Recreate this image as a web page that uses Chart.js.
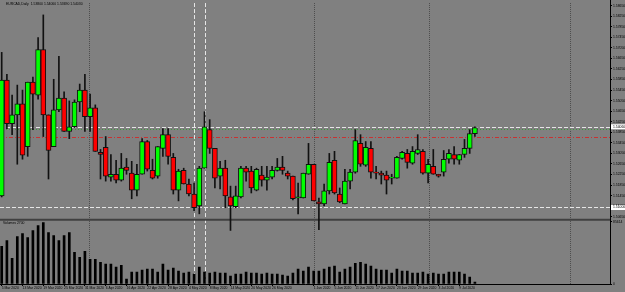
<!DOCTYPE html>
<html>
<head>
<meta charset="utf-8">
<script src="https://cdn.jsdelivr.net/npm/chart.js@4.4.1/dist/chart.umd.min.js"></script>
<style>
html, body { margin: 0; padding: 0; background: #808080; }
#wrap { width: 625px; height: 292px; }
</style>
</head>
<body>
<div id="wrap"><canvas id="chart"></canvas></div>
<script>
// EURCAD daily candles
const opens = [1.5144,1.5583,1.5418,1.5451,1.5493,1.5331,1.5575,1.5526,1.5699,1.5451,
  1.5331,1.5470,1.5515,1.5388,1.5406,1.5500,1.5545,1.5444,1.5478,1.5309,
  1.5328,1.5215,1.5226,1.5204,1.5253,1.5230,1.5166,1.5226,1.5350,1.5241,
  1.5219,1.5324,1.5376,1.5290,1.5166,1.5241,1.5189,1.5151,1.5106,1.5249,
  1.5395,1.5324,1.5219,1.5249,1.5140,1.5103,1.5140,1.5249,1.5238,1.5166,
  1.5223,1.5204,1.5215,1.5241,1.5253,1.5230,1.5219,1.5136,1.5136,1.5226,
  1.5264,1.5121,1.5114,1.5163,1.5279,1.5151,1.5114,1.5200,1.5234,1.5343,
  1.5260,1.5324,1.5234,1.5230,1.5223,1.5211,1.5211,1.5286,1.5305,1.5268,
  1.5305,1.5313,1.5230,1.5256,1.5226,1.5234,1.5283,1.5301,1.5279,1.5301,
  1.5324,1.5380];
const highs = [1.5688,1.5605,1.5526,1.5564,1.5545,1.5575,1.5594,1.5744,1.5830,1.5451,
  1.5586,1.5673,1.5538,1.5504,1.5508,1.5568,1.5605,1.5530,1.5489,1.5320,
  1.5369,1.5301,1.5279,1.5305,1.5286,1.5275,1.5264,1.5361,1.5354,1.5283,
  1.5331,1.5399,1.5399,1.5305,1.5245,1.5249,1.5208,1.5193,1.5256,1.5463,
  1.5433,1.5324,1.5275,1.5279,1.5181,1.5181,1.5256,1.5256,1.5256,1.5249,
  1.5256,1.5256,1.5256,1.5286,1.5294,1.5238,1.5219,1.5193,1.5230,1.5343,
  1.5264,1.5136,1.5189,1.5305,1.5313,1.5174,1.5245,1.5245,1.5395,1.5376,
  1.5350,1.5350,1.5256,1.5238,1.5238,1.5226,1.5294,1.5313,1.5320,1.5331,
  1.5376,1.5320,1.5283,1.5320,1.5226,1.5316,1.5320,1.5331,1.5301,1.5358,
  1.5395,1.5406];
const lows = [1.5140,1.5399,1.5376,1.5264,1.5283,1.5294,1.5395,1.5511,1.5369,1.5208,
  1.5331,1.5463,1.5388,1.5361,1.5403,1.5463,1.5388,1.5388,1.5313,1.5208,
  1.5200,1.5200,1.5193,1.5200,1.5226,1.5133,1.5144,1.5226,1.5238,1.5208,
  1.5211,1.5294,1.5264,1.5151,1.5125,1.5189,1.5144,1.5088,1.5076,1.5249,
  1.5305,1.5174,1.5170,1.5099,1.5013,1.5099,1.5136,1.5200,1.5155,1.5163,
  1.5181,1.5166,1.5208,1.5238,1.5226,1.5208,1.5129,1.5076,1.5136,1.5226,
  1.5125,1.5016,1.5106,1.5151,1.5151,1.5118,1.5114,1.5170,1.5230,1.5256,
  1.5256,1.5211,1.5208,1.5189,1.5151,1.5189,1.5211,1.5283,1.5249,1.5264,
  1.5301,1.5226,1.5193,1.5226,1.5215,1.5219,1.5268,1.5264,1.5264,1.5290,
  1.5305,1.5369];
const closes = [1.5583,1.5418,1.5451,1.5493,1.5298,1.5575,1.5530,1.5699,1.5451,1.5316,
  1.5470,1.5515,1.5388,1.5406,1.5500,1.5545,1.5444,1.5478,1.5313,1.5301,
  1.5219,1.5226,1.5204,1.5249,1.5241,1.5166,1.5226,1.5350,1.5245,1.5211,
  1.5331,1.5376,1.5294,1.5166,1.5238,1.5189,1.5151,1.5099,1.5249,1.5406,
  1.5324,1.5211,1.5249,1.5144,1.5106,1.5144,1.5249,1.5234,1.5174,1.5245,
  1.5204,1.5215,1.5241,1.5253,1.5241,1.5219,1.5133,1.5140,1.5230,1.5264,
  1.5125,1.5114,1.5163,1.5271,1.5155,1.5121,1.5200,1.5234,1.5354,1.5264,
  1.5328,1.5234,1.5230,1.5223,1.5204,1.5215,1.5290,1.5309,1.5271,1.5313,
  1.5320,1.5230,1.5264,1.5226,1.5219,1.5283,1.5305,1.5283,1.5301,1.5324,
  1.5380,1.5403];
const volumes = [51600,59800,35300,65200,69300,63900,73400,80200,84300,70700,
  66600,59800,66600,70700,43500,36700,44800,34000,34000,29900,
  27200,27200,23100,25800,6800,16300,16300,19000,20400,20400,
  16300,27200,19000,21700,17700,14900,16300,13600,23100,16300,
  14900,16300,14900,14900,10900,13600,13600,16300,14900,14900,
  13600,14900,13600,13600,12200,10900,14900,20400,17700,23100,
  17700,17700,20400,23100,24500,16300,20400,23100,28500,29900,
  27200,24500,20400,19000,19000,14900,20400,17700,17700,14900,
  14900,16300,13600,14900,13600,13600,16300,16300,16300,13600,
  9500,2700];

// bottom axis labels (bar index -> text)
const dateTickBars = [0,4,8,12,16,20,24,28,32,36,40,44,48,52,60,64,68,72,76,80,84,88];
const dateTickLabels = ['5 Mar 2020','13 Mar 2020','19 Mar 2020','25 Mar 2020','31 Mar 2020',
  '6 Apr 2020','16 Apr 2020','22 Apr 2020','28 Apr 2020','4 May 2020','8 May 2020',
  '14 May 2020','20 May 2020','26 May 2020','1 Jun 2020','5 Jun 2020','11 Jun 2020',
  '17 Jun 2020','23 Jun 2020','29 Jun 2020','3 Jul 2020','9 Jul 2020'];

const priceTicks = [1.5865,1.5825,1.5785,1.5745,1.5705,1.5665,1.5625,1.5585,1.5545,1.5505,
  1.5465,1.5425,1.5385,1.5345,1.5305,1.5265,1.5225,1.5185,1.5145,1.5105,1.5065];
const volumeTicks = [0, 85614];

// objects drawn on the chart
const dashedLevels = [1.5406, 1.5100];
const askLevel = 1.5399;
const stopLevel = 1.5369;
const markerBars = [37, 39];
const periodBars = [16.8, 60, 82.2, 109.3];

const bars = opens.map((_, i) => i);
const FONT = 'Liberation Sans';
Chart.defaults.font.family = FONT;

const overlay = {
  id: 'overlay',
  beforeDraw(chart) {
    const c = chart.ctx;
    c.save();
    c.fillStyle = '#808080';
    c.fillRect(0, 0, chart.width, chart.height);
    c.restore();
  },
  beforeDatasetsDraw(chart) {
    const c = chart.ctx, a = chart.chartArea;
    const x = chart.scales.x, y = chart.scales.y, yv = chart.scales.yv;
    c.save();
    c.beginPath();
    c.rect(a.left, a.top, a.right - a.left, a.bottom - a.top);
    c.clip();
    c.lineWidth = 1;
    // period separators
    c.strokeStyle = '#4c4c4c';
    c.setLineDash([1, 1]);
    periodBars.forEach(b => {
      const px = Math.round(x.getPixelForValue(b)) + 0.5;
      c.beginPath(); c.moveTo(px, a.top); c.lineTo(px, a.bottom); c.stroke();
    });
    // white dashed verticals
    c.strokeStyle = '#e6e6e6';
    c.setLineDash([4, 2]);
    markerBars.forEach(b => {
      const px = Math.round(x.getPixelForValue(b)) + 0.5;
      c.beginPath(); c.moveTo(px, a.top); c.lineTo(px, a.bottom); c.stroke();
    });
    // horizontal levels
    dashedLevels.forEach(p => {
      const py = Math.round(y.getPixelForValue(p)) + 0.5;
      c.beginPath(); c.moveTo(a.left, py); c.lineTo(a.right, py); c.stroke();
    });
    c.strokeStyle = '#3c9a3c';
    c.setLineDash([1, 2]);
    let py = Math.round(y.getPixelForValue(askLevel)) + 0.5;
    c.beginPath(); c.moveTo(a.left, py); c.lineTo(a.right, py); c.stroke();
    c.strokeStyle = '#c83232';
    c.setLineDash([4, 2, 1, 2]);
    py = Math.round(y.getPixelForValue(stopLevel)) + 0.5;
    c.beginPath(); c.moveTo(a.left, py); c.lineTo(a.right, py); c.stroke();
    // window separator
    c.setLineDash([]);
    c.strokeStyle = '#404040';
    c.lineWidth = 2;
    c.beginPath(); c.moveTo(a.left, yv.top); c.lineTo(a.right, yv.top); c.stroke();
    c.restore();
  },
  afterDatasetsDraw(chart) {
    const c = chart.ctx, a = chart.chartArea, y = chart.scales.y, yv = chart.scales.yv;
    c.save();
    c.strokeStyle = '#000';
    c.lineWidth = 1;
    c.beginPath();
    c.moveTo(a.right + 0.5, 0); c.lineTo(a.right + 0.5, a.bottom + 0.5);
    c.lineTo(a.left, a.bottom + 0.5);
    c.stroke();
    c.fillStyle = '#000';
    c.font = '3.4px ' + FONT;
    c.textBaseline = 'middle';
    const n = opens.length - 1;
    c.fillText('EURCAD,Daily  ' + opens[n].toFixed(5) + ' ' + highs[n].toFixed(5) + ' ' +
      lows[n].toFixed(5) + ' ' + closes[n].toFixed(5), 6, 4);
    c.fillText('Volumes ' + volumes[n], 3, yv.top + 3);
    // price boxes on the right axis
    dashedLevels.forEach(p => {
      const py = y.getPixelForValue(p);
      c.fillStyle = '#fff';
      c.fillRect(a.right + 1, py - 2.5, 14, 5);
      c.fillStyle = '#000';
      c.fillText(p.toFixed(5), a.right + 3, py);
    });
    c.restore();
  }
};

new Chart(document.getElementById('chart'), {
  type: 'bar',
  data: {
    datasets: [
      {
        label: 'body',
        data: bars.map(i => ({ x: i, y: [opens[i], closes[i]] })),
        backgroundColor: bars.map(i => closes[i] >= opens[i] ? '#00ff00' : '#ff0000'),
        borderColor: '#111',
        borderWidth: 1,
        borderSkipped: false,
        barThickness: 5,
        grouped: false,
        yAxisID: 'y',
        order: 1,
        clip: { left: 0, top: 0, right: 0, bottom: false }
      },
      {
        label: 'wick',
        data: bars.map(i => ({ x: i, y: [lows[i], highs[i]] })),
        backgroundColor: '#111',
        barThickness: 1,
        grouped: false,
        yAxisID: 'y',
        order: 2,
        clip: { left: 0, top: 0, right: 0, bottom: false }
      },
      {
        label: 'volume',
        data: bars.map(i => ({ x: i, y: volumes[i] })),
        backgroundColor: '#000',
        barThickness: 2,
        grouped: false,
        yAxisID: 'yv',
        order: 3
      }
    ]
  },
  options: {
    responsive: true,
    maintainAspectRatio: false,
    animation: false,
    layout: { padding: 0 },
    plugins: { legend: { display: false }, tooltip: { enabled: false } },
    scales: {
      x: {
        type: 'linear',
        position: 'bottom',
        offset: false,
        min: -0.327,
        max: 116.98,
        afterBuildTicks: s => { s.ticks = dateTickBars.map(v => ({ value: v })); },
        afterFit: s => { s.height = 8; },
        ticks: {
          autoSkip: false, maxRotation: 0, minRotation: 0, align: 'start', padding: 0,
          color: '#000', font: { size: 3.4 },
          callback: (v, i) => dateTickLabels[i]
        },
        grid: { offset: false, drawOnChartArea: false, tickLength: 2, color: '#000' },
        border: { display: false }
      },
      y: {
        type: 'linear',
        position: 'right',
        stack: 'panes',
        stackWeight: 219,
        min: 1.505375,
        max: 1.5875,
        afterBuildTicks: s => { s.ticks = priceTicks.map(v => ({ value: v })); },
        afterFit: s => { s.width = 15; },
        ticks: {
          autoSkip: false, padding: 1, color: '#000', font: { size: 3.4 },
          callback: v => v.toFixed(5)
        },
        grid: { drawOnChartArea: false, tickLength: 2, color: '#000' },
        border: { display: false }
      },
      yv: {
        type: 'linear',
        position: 'right',
        stack: 'panes',
        stackWeight: 65,
        min: 0,
        max: 88335,
        afterBuildTicks: s => { s.ticks = volumeTicks.map(v => ({ value: v })); },
        afterFit: s => { s.width = 15; },
        ticks: {
          autoSkip: false, padding: 1, color: '#000', font: { size: 3.4 },
          callback: v => String(v)
        },
        grid: { drawOnChartArea: false, tickLength: 2, color: '#000' },
        border: { display: false }
      }
    }
  },
  plugins: [overlay]
});
</script>
</body>
</html>
